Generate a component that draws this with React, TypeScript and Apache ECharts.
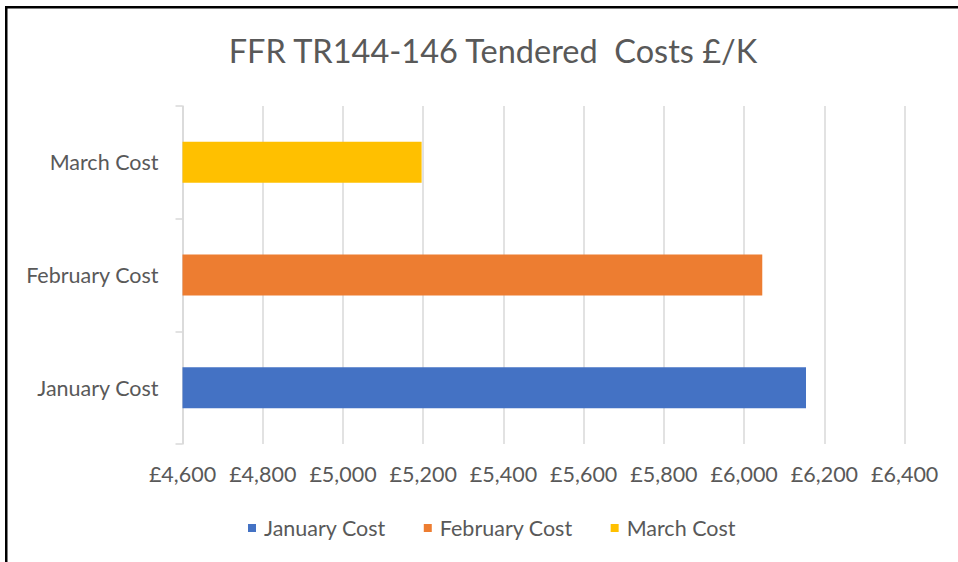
import React, { useEffect, useRef } from "react";
import * as echarts from "echarts";

const categories = ["January Cost", "February Cost", "March Cost"];
const seriesNames = ["January Cost", "February Cost", "March Cost"];
const januaryValues = [6154, null, null];
const februaryValues = [null, 6045, null];
const marchValues = [null, null, 5196];
const colors = ["#4472C4", "#ED7D31", "#FFC000"];
const xMin = 4600;
const xMax = 6400;
const xStep = 200;

const FONT = "Lato";
const TEXT = "#595959";
const GRID = "#D9D9D9";

export default function App() {
  const ref = useRef<HTMLDivElement>(null);
  useEffect(() => {
    if (!ref.current) return;
    const chart = echarts.init(ref.current, null, { renderer: "svg" });
    const allData = [januaryValues, februaryValues, marchValues];
    chart.setOption({
      animation: false,
      backgroundColor: "#ffffff",
      title: {
        text: "FFR TR144-146 Tendered  Costs £/K",
        left: 488,
        top: 26,
        textAlign: "center",
        textStyle: {
          fontFamily: FONT,
          fontSize: 32.5,
          fontWeight: "normal",
          color: TEXT,
          lineHeight: 38,
        },
      },
      legend: {
        data: seriesNames,
        left: 243,
        top: 512,
        icon: "rect",
        itemWidth: 8,
        itemHeight: 8,
        itemGap: 38,
        textStyle: {
          fontFamily: FONT,
          fontSize: 21.5,
          color: TEXT,
          padding: [0, 0, 0, 3],
        },
      },
      grid: {
        left: 182.5,
        right: 53.3,
        top: 106,
        bottom: 118,
        containLabel: false,
      },
      xAxis: {
        type: "value",
        min: xMin,
        max: xMax,
        interval: xStep,
        axisLine: { show: false },
        axisTick: { show: false },
        splitLine: { show: true, lineStyle: { color: GRID, width: 1.5 } },
        axisLabel: {
          margin: 19,
          fontFamily: FONT,
          fontSize: 21.5,
          color: TEXT,
          formatter: (v: number) => "£" + v.toLocaleString("en-GB"),
        },
      },
      yAxis: {
        type: "category",
        data: categories,
        axisLine: { show: true, lineStyle: { color: GRID, width: 1.5 } },
        axisTick: { show: true, length: 7, lineStyle: { color: GRID, width: 1.5 } },
        axisLabel: {
          margin: 24,
          fontFamily: FONT,
          fontSize: 21.5,
          color: TEXT,
        },
      },
      series: seriesNames.map((name, i) => ({
        name,
        type: "bar",
        data: allData[i],
        barWidth: 41,
        barGap: "-100%",
        itemStyle: { color: colors[i] },
      })),
      graphic: [
        { type: "rect", shape: { x: 5, y: 6, width: 953, height: 2.5 }, style: { fill: "#000" } },
        { type: "rect", shape: { x: 5, y: 6, width: 2.5, height: 556 }, style: { fill: "#000" } },
      ],
    });
    return () => chart.dispose();
  }, []);
  return (
    <div
      ref={ref}
      style={{ position: "fixed", left: 0, top: 0, width: 958, height: 562 }}
    />
  );
}
